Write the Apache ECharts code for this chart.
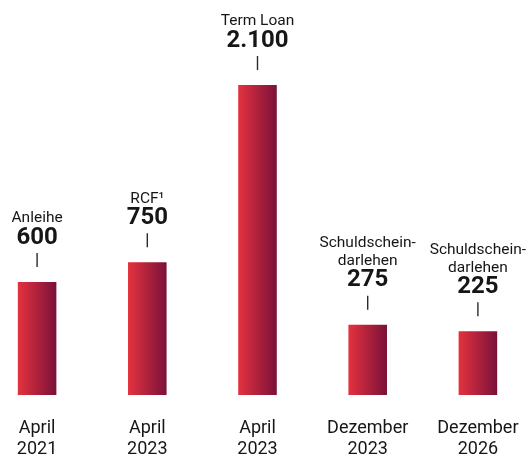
<!DOCTYPE html>
<html>
<head>
<meta charset="utf-8">
<script src="https://cdn.jsdelivr.net/npm/echarts@6/dist/echarts.min.js"></script>
<style>
  html, body { margin: 0; padding: 0; background: #ffffff; overflow: hidden; }
  /* the plot runs slightly past both window edges so the outer bars sit close to the border */
  #chart { width: 551px; height: 454px; margin-left: -18px; }
</style>
</head>
<body>
<div id="chart"></div>
<script>
// Maturity profile (Mio. €)
const categories = ['April\n2021', 'April\n2023', 'April\n2023', 'Dezember\n2023', 'Dezember\n2026'];
const instruments = ['Anleihe', 'RCF\u00B9', 'Term Loan', 'Schuldschein-\ndarlehen', 'Schuldschein-\ndarlehen'];
const amounts = [600, 750, 2100, 275, 225];

const Y_MIN = -260;
const Y_MAX = 2500;
const FONT = 'Roboto, "DejaVu Sans", sans-serif';
const TEXT_COLOR = '#161616';

// German thousands separator: 2100 -> "2.100"
function formatAmount(v) {
  return String(v).replace(/\B(?=(\d{3})+(?!\d))/g, '.');
}

const chart = echarts.init(document.getElementById('chart'), null, { renderer: 'canvas' });

function renderBar(params, api) {
  const idx = api.value(0);
  const val = api.value(1);
  const top = api.coord([idx, val]);
  const base = api.coord([idx, Y_MIN]);
  const w = api.size([1, 0])[0] * 0.35;
  const cx = top[0];
  const T = top[1];

  const children = [
    {
      type: 'rect',
      shape: { x: cx - w / 2, y: T, width: w, height: base[1] - T },
      style: {
        fill: new echarts.graphic.LinearGradient(0, 0, 1, 0, [
          { offset: 0, color: '#e4323f' },
          { offset: 1, color: '#7a1139' }
        ])
      }
    },
    {
      type: 'line',
      shape: { x1: cx, y1: T - 15, x2: cx, y2: T - 29 },
      style: { stroke: '#2a2a2a', lineWidth: 1.4 }
    },
    {
      type: 'text',
      style: {
        text: formatAmount(amounts[params.dataIndex]),
        x: cx,
        y: T - 44.5,
        align: 'center',
        verticalAlign: 'middle',
        fontFamily: FONT,
        fontWeight: 'bold',
        fontSize: 24,
        fill: TEXT_COLOR
      }
    }
  ];

  const lines = instruments[params.dataIndex].split('\n');
  lines.forEach(function (line, k) {
    children.push({
      type: 'text',
      style: {
        text: line,
        x: cx,
        y: T - 63.5 - (lines.length - 1 - k) * 18,
        align: 'center',
        verticalAlign: 'middle',
        fontFamily: FONT,
        fontSize: 15.5,
        fill: TEXT_COLOR
      }
    });
  });

  return { type: 'group', children: children };
}

chart.setOption({
  animation: false,
  backgroundColor: '#ffffff',
  grid: {
    left: 0, right: 0, top: 32.5, bottom: 59,
    containLabel: false,
    outerBoundsMode: 'none'
  },
  xAxis: {
    type: 'category',
    data: categories,
    axisLine: { show: false },
    axisTick: { show: false },
    axisLabel: {
      interval: 0,
      margin: 23,
      fontFamily: FONT,
      fontSize: 18,
      lineHeight: 21,
      color: TEXT_COLOR
    }
  },
  yAxis: {
    type: 'value',
    min: Y_MIN,
    max: Y_MAX,
    show: false,
    splitLine: { show: false }
  },
  series: [{
    type: 'custom',
    renderItem: renderBar,
    data: amounts.map(function (v, i) { return [i, v]; })
  }]
});
</script>
</body>
</html>
